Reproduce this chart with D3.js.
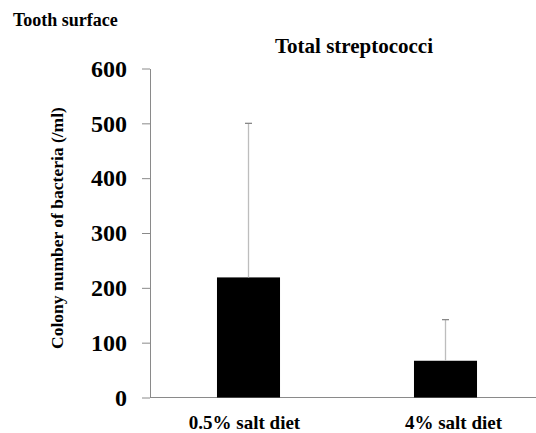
<!DOCTYPE html>
<html>
<head>
<meta charset="utf-8">
<script src="https://cdn.jsdelivr.net/npm/d3@7"></script>
<style>
  html, body { margin: 0; padding: 0; background: #fff; }
</style>
</head>
<body>
<svg id="chart" width="536" height="433"></svg>
<script>
// Colony counts of total streptococci on the tooth surface
const categories = ["0.5% salt diet", "4% salt diet"];
const means = [219, 67];
const errorTops = [500, 142];
const yTicks = [0, 100, 200, 300, 400, 500, 600];

const FONT = "Liberation Serif";
const svg = d3.select("#chart")
  .attr("font-family", FONT)
  .attr("font-weight", "bold");
const plot = { left: 150, right: 536, top: 68.5, bottom: 397.5 };

const x = d3.scaleBand()
  .domain(categories)
  .range([plot.left, plot.left + 394])
  .paddingInner(0.68)
  .paddingOuter(0.34);

const y = d3.scaleLinear().domain([0, 600]).range([plot.bottom, plot.top]);

// Y axis with outward ticks
const yAxis = svg.append("g")
  .attr("transform", `translate(${plot.left},0)`)
  .call(d3.axisLeft(y).tickValues(yTicks).tickSize(8).tickSizeOuter(0).tickPadding(15));
yAxis.attr("font-family", FONT).attr("font-size", null);
yAxis.select(".domain").attr("stroke", "#8a8a8a");
yAxis.selectAll(".tick line").attr("stroke", "#8a8a8a");
yAxis.selectAll(".tick text")
  .attr("fill", "#000")
  .attr("font-family", FONT)
  .attr("font-weight", "bold")
  .attr("font-size", 24);

// X baseline
svg.append("line")
  .attr("x1", plot.left).attr("x2", plot.right)
  .attr("y1", y(0)).attr("y2", y(0))
  .attr("stroke", "#8a8a8a").attr("stroke-width", 1);

// Bars
svg.selectAll("rect.bar")
  .data(categories)
  .join("rect")
  .attr("class", "bar")
  .attr("x", d => x(d))
  .attr("width", x.bandwidth())
  .attr("y", (d, i) => y(means[i]))
  .attr("height", (d, i) => y(0) - y(means[i]))
  .attr("fill", "#000");

// Upper error bars
const eb = svg.selectAll("g.err")
  .data(categories)
  .join("g")
  .attr("class", "err");
eb.append("line")
  .attr("x1", d => x(d) + x.bandwidth() / 2)
  .attr("x2", d => x(d) + x.bandwidth() / 2)
  .attr("y1", (d, i) => y(means[i]))
  .attr("y2", (d, i) => y(errorTops[i]))
  .attr("stroke", "#bdbdbd").attr("stroke-width", 1.3);
eb.append("line")
  .attr("x1", d => x(d) + x.bandwidth() / 2 - 3.5)
  .attr("x2", d => x(d) + x.bandwidth() / 2 + 3.5)
  .attr("y1", (d, i) => y(errorTops[i]))
  .attr("y2", (d, i) => y(errorTops[i]))
  .attr("stroke", "#888").attr("stroke-width", 1.3);

// Category labels
svg.selectAll("text.cat")
  .data(categories)
  .join("text")
  .attr("class", "cat")
  .attr("x", (d, i) => x(d) + x.bandwidth() / 2 + (i === 0 ? -4 : 8))
  .attr("y", 429)
  .attr("text-anchor", "middle")
  .attr("font-size", 19)
  .text(d => d);

// Titles
svg.append("text")
  .attr("x", 13).attr("y", 26)
  .attr("font-size", 18)
  .text("Tooth surface");

svg.append("text")
  .attr("x", 354).attr("y", 53)
  .attr("text-anchor", "middle")
  .attr("font-size", 21)
  .text("Total streptococci");

// Y axis title
svg.append("text")
  .attr("transform", "translate(63,228) rotate(-90)")
  .attr("text-anchor", "middle")
  .attr("font-size", 17.5)
  .text("Colony number of bacteria (/ml)");
</script>
</body>
</html>
